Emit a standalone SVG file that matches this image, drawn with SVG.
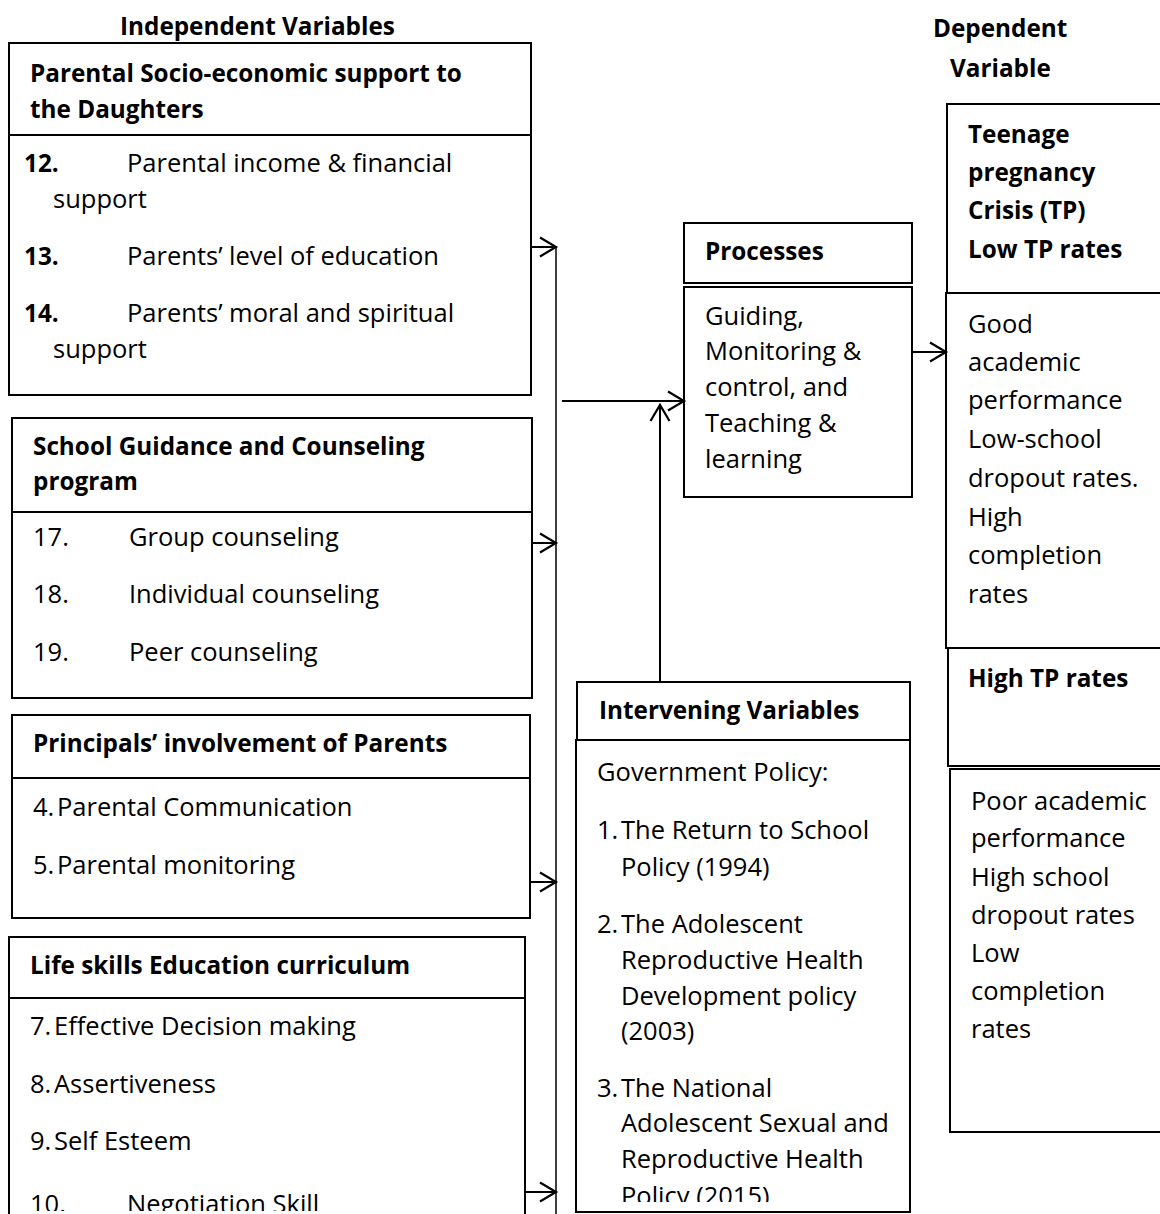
<svg xmlns="http://www.w3.org/2000/svg" width="1160" height="1214" viewBox="0 0 1160 1214">
<style>
.box{fill:#fff;stroke:#000;stroke-width:2}
.t{font-family:"Open Sans","Liberation Sans",sans-serif;font-size:25.5px;fill:#000}
.b{font-family:"Open Sans","Liberation Sans",sans-serif;font-size:24.3px;font-weight:bold;fill:#000}
.conn{stroke:#000;stroke-width:2;fill:none}
.thin{stroke:#000;stroke-width:1.5;fill:none}
</style>
<defs>
<marker id="arr" markerUnits="userSpaceOnUse" markerWidth="20" markerHeight="22" refX="17" refY="11" orient="auto">
<path d="M1,1.5 L17,11 L1,20.5" fill="none" stroke="#000" stroke-width="2.2"/>
</marker>
<clipPath id="clipL"><rect x="0" y="0" width="560" height="1211"/></clipPath>
<clipPath id="clipI"><rect x="560" y="0" width="380" height="1202"/></clipPath>
</defs>
<rect width="1160" height="1214" fill="#fff"/>

<g id="titles">
<text class="b" x="120" y="35">Independent Variables</text>
<text class="b" x="933" y="37">Dependent</text>
<text class="b" x="950" y="77">Variable</text>
</g>

<g id="parental">
<rect class="box" x="9" y="43" width="522" height="352"/>
<line class="conn" x1="9" y1="135" x2="531" y2="135"/>
<text class="b" x="30" y="82">Parental Socio-economic support to</text>
<text class="b" x="30" y="118">the Daughters</text>
<text class="b" x="24" y="172">12.</text><text class="t" x="127" y="172">Parental income &amp; financial</text>
<text class="t" x="53" y="208">support</text>
<text class="b" x="24" y="265">13.</text><text class="t" x="127" y="265">Parents’ level of education</text>
<text class="b" x="24" y="322">14.</text><text class="t" x="127" y="322">Parents’ moral and spiritual</text>
<text class="t" x="53" y="358">support</text>
</g>

<g id="guidance">
<rect class="box" x="12" y="418" width="520" height="280"/>
<line class="conn" x1="12" y1="512" x2="532" y2="512"/>
<text class="b" x="33" y="455">School Guidance and Counseling</text>
<text class="b" x="33" y="490">program</text>
<text class="t" x="33" y="546">17.</text><text class="t" x="129" y="546">Group counseling</text>
<text class="t" x="33" y="603">18.</text><text class="t" x="129" y="603">Individual counseling</text>
<text class="t" x="33" y="661">19.</text><text class="t" x="129" y="661">Peer counseling</text>
</g>

<g id="principals">
<rect class="box" x="12" y="715" width="518" height="203"/>
<line class="conn" x1="12" y1="778" x2="530" y2="778"/>
<text class="b" x="33" y="752">Principals’ involvement of Parents</text>
<text class="t" x="33" y="816">4.</text><text class="t" x="57" y="816">Parental Communication</text>
<text class="t" x="33" y="874">5.</text><text class="t" x="57" y="874">Parental monitoring</text>
</g>

<g id="lifeskills">
<rect class="box" x="9" y="937" width="516" height="290"/>
<line class="conn" x1="9" y1="998" x2="525" y2="998"/>
<text class="b" x="30" y="974">Life skills Education curriculum</text>
<text class="t" x="30" y="1035">7.</text><text class="t" x="54" y="1035">Effective Decision making</text>
<text class="t" x="30" y="1093">8.</text><text class="t" x="54" y="1093">Assertiveness</text>
<text class="t" x="30" y="1150">9.</text><text class="t" x="54" y="1150">Self Esteem</text>
<g clip-path="url(#clipL)">
<text class="t" x="30" y="1213">10.</text><text class="t" x="127" y="1213">Negotiation Skill</text>
</g>
</g>

<g id="processes">
<rect class="box" x="684" y="223" width="228" height="60"/>
<rect class="box" x="684" y="287" width="228" height="210"/>
<text class="b" x="705" y="260">Processes</text>
<text class="t" x="705" y="325">Guiding,</text>
<text class="t" x="705" y="360">Monitoring &amp;</text>
<text class="t" x="705" y="396">control, and</text>
<text class="t" x="705" y="432">Teaching &amp;</text>
<text class="t" x="705" y="468">learning</text>
</g>

<g id="intervening">
<rect class="box" x="577" y="682" width="333" height="58"/>
<rect class="box" x="576" y="740" width="334" height="472"/>
<text class="b" x="599" y="719">Intervening Variables</text>
<text class="t" x="597" y="781">Government Policy:</text>
<text class="t" x="597" y="839">1.</text><text class="t" x="621" y="839">The Return to School</text>
<text class="t" x="621" y="876">Policy (1994)</text>
<text class="t" x="597" y="933">2.</text><text class="t" x="621" y="933">The Adolescent</text>
<text class="t" x="621" y="969">Reproductive Health</text>
<text class="t" x="621" y="1005">Development policy</text>
<text class="t" x="621" y="1040">(2003)</text>
<text class="t" x="597" y="1097">3.</text><text class="t" x="621" y="1097">The National</text>
<text class="t" x="621" y="1132">Adolescent Sexual and</text>
<text class="t" x="621" y="1168">Reproductive Health</text>
<g clip-path="url(#clipI)">
<text class="t" x="621" y="1205">Policy (2015)</text>
</g>
</g>

<g id="dependent">
<rect class="box" x="947" y="104" width="230" height="189"/>
<text class="b" x="968" y="143">Teenage</text>
<text class="b" x="968" y="181">pregnancy</text>
<text class="b" x="968" y="219">Crisis (TP)</text>
<text class="b" x="968" y="258">Low TP rates</text>
<rect class="box" x="946" y="293" width="231" height="355"/>
<text class="t" x="968" y="333">Good</text>
<text class="t" x="968" y="371">academic</text>
<text class="t" x="968" y="409">performance</text>
<text class="t" x="968" y="448">Low-school</text>
<text class="t" x="968" y="487">dropout rates.</text>
<text class="t" x="968" y="526">High</text>
<text class="t" x="968" y="564">completion</text>
<text class="t" x="968" y="603">rates</text>
<rect class="box" x="948" y="648" width="229" height="118"/>
<text class="b" x="968" y="687">High TP rates</text>
<rect class="box" x="950" y="769" width="227" height="363"/>
<text class="t" x="971" y="810">Poor academic</text>
<text class="t" x="971" y="847">performance</text>
<text class="t" x="971" y="886">High school</text>
<text class="t" x="971" y="924">dropout rates</text>
<text class="t" x="971" y="962">Low</text>
<text class="t" x="971" y="1000">completion</text>
<text class="t" x="971" y="1038">rates</text>
</g>

<g id="connectors">
<line class="thin" x1="556" y1="246" x2="556" y2="1214"/>
<line class="conn" x1="531" y1="247" x2="556" y2="247" marker-end="url(#arr)"/>
<line class="conn" x1="532" y1="543" x2="556" y2="543" marker-end="url(#arr)"/>
<line class="conn" x1="530" y1="882" x2="556" y2="882" marker-end="url(#arr)"/>
<line class="conn" x1="525" y1="1192" x2="556" y2="1192" marker-end="url(#arr)"/>
<line class="conn" x1="562" y1="401" x2="684" y2="401" marker-end="url(#arr)"/>
<line class="conn" x1="660" y1="681" x2="660" y2="405" marker-end="url(#arr)"/>
<line class="conn" x1="912" y1="352" x2="946" y2="352" marker-end="url(#arr)"/>
</g>
</svg>
